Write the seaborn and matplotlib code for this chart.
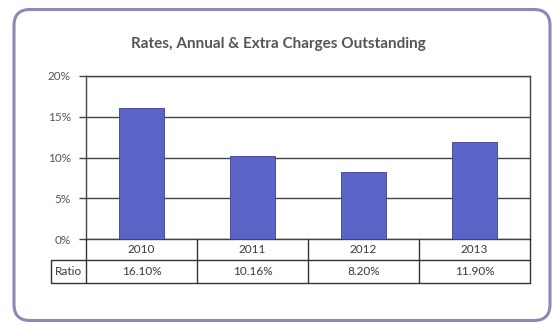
import matplotlib
matplotlib.use("Agg")
import matplotlib.pyplot as plt
import matplotlib.transforms as mtransforms
from matplotlib.patches import FancyBboxPatch
from matplotlib.lines import Line2D
import seaborn as sns
import pandas as pd

# ---- data ----
years = ["2010", "2011", "2012", "2013"]
ratios = [16.10, 10.16, 8.20, 11.90]
ratio_labels = ["16.10%", "10.16%", "8.20%", "11.90%"]
yticks = [0, 5, 10, 15, 20]
ytick_labels = ["0%", "5%", "10%", "15%", "20%"]
title = "Rates, Annual & Extra Charges Outstanding"
row_label = "Ratio"

sns.set_theme(style="white")
plt.rcParams['font.family'] = ['Lato', 'DejaVu Sans']

W, H = 553, 322
fig = plt.figure(figsize=(W / 100, H / 100), dpi=100)
fig.patch.set_facecolor('white')

def fx(px):
    return px / W

def fy(py):
    return 1 - py / H

# outer rounded frame
box = FancyBboxPatch((0.14, 0.015), 5.36, 3.11,
                     boxstyle="round,pad=0,rounding_size=0.16",
                     transform=fig.dpi_scale_trans, facecolor='none',
                     edgecolor='#8c88b8', linewidth=2.2, zorder=-5)
fig.add_artist(box)

ax = fig.add_axes([fx(86), fy(239), fx(530) - fx(86), (239 - 76) / H])
ax.set_facecolor('white')

df = pd.DataFrame({"year": years, "ratio": ratios})
sns.barplot(data=df, x="year", y="ratio", color="#5a63c6", saturation=1,
            width=0.41, edgecolor="#3a3f8a", linewidth=0.6, ax=ax, zorder=3)

ax.set_xlim(-0.5, len(years) - 0.5)
ax.set_ylim(yticks[0], yticks[-1])
ax.set_yticks(yticks)
ax.set_yticklabels(ytick_labels)
ax.set_xticks([])
ax.set_xlabel("")
ax.set_ylabel("")
ax.yaxis.grid(True, color='#444444', linewidth=1.0)
ax.set_axisbelow(True)
for s in ax.spines.values():
    s.set_visible(True)
    s.set_color('#444444')
    s.set_linewidth(1.0)
ax.tick_params(axis='y', left=True, length=5, width=1.0, color='#444444',
               direction='out', pad=6, labelsize=8.5, labelcolor='#555555')

# ---- data table below the axis ----
bt = mtransforms.blended_transform_factory(ax.transData, fig.transFigure)
lc = '#333333'
lw = 1.0
n = len(years)
y_top, y_mid, y_bot = 239, 260, 283

fig.add_artist(Line2D([fx(51), fx(530)], [fy(y_mid), fy(y_mid)],
                      transform=fig.transFigure, color=lc, linewidth=lw))
fig.add_artist(Line2D([fx(51), fx(530)], [fy(y_bot), fy(y_bot)],
                      transform=fig.transFigure, color=lc, linewidth=lw))
for i in range(n + 1):
    fig.add_artist(Line2D([i - 0.5, i - 0.5], [fy(y_top), fy(y_bot)],
                          transform=bt, color=lc, linewidth=lw))
fig.add_artist(Line2D([fx(51), fx(51)], [fy(y_mid), fy(y_bot)],
                      transform=fig.transFigure, color=lc, linewidth=lw))

for i, (yr, lab) in enumerate(zip(years, ratio_labels)):
    fig.text(i, fy((y_top + y_mid) / 2), yr, transform=bt, ha='center',
             va='center', fontsize=8.5, color='#3a3a3a')
    fig.text(i, fy((y_mid + y_bot) / 2), lab, transform=bt, ha='center',
             va='center', fontsize=8.5, color='#3a3a3a')
fig.text(fx(68.5), fy((y_mid + y_bot) / 2), row_label, ha='center',
         va='center', fontsize=8.5, color='#3a3a3a')

fig.text(fx(278), fy(44), title, ha='center', va='center', fontsize=11,
         fontweight='bold', color='#555555')

fig.savefig("out.png", dpi=100, facecolor='white')
